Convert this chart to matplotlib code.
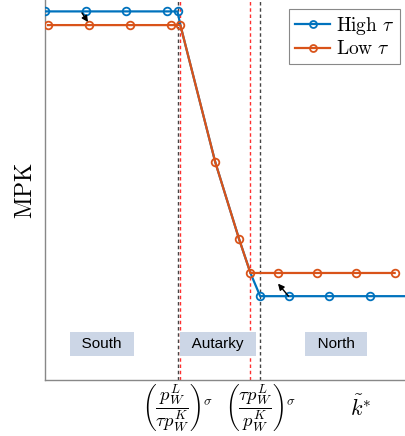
import matplotlib
matplotlib.use("Agg")
import matplotlib.pyplot as plt
from matplotlib.transforms import blended_transform_factory

plt.rcParams['mathtext.fontset'] = 'cm'

# Capital stock grid (k) and MPK values
south_high_x = [0, 1, 2, 3, 3.26]
south_high_y = [9.70, 9.70, 9.70, 9.70, 9.70]
south_low_x = [0.06, 1.07, 2.09, 3.10]
south_low_y = [9.34, 9.34, 9.34, 9.34]
autarky_x = [3.33, 4.19, 4.78, 5.06]
autarky_y = [9.34, 5.74, 3.71, 2.82]
north_high_x = [5.30, 6, 7, 8, 9]
north_high_y = [2.21, 2.21, 2.21, 2.21, 2.21]
north_low_x = [5.73, 6.70, 7.66, 8.62]
north_low_y = [2.82, 2.82, 2.82, 2.82]

# Thresholds (tick positions) and regime labels
threshold_black = [3.26, 5.30]
threshold_red = [3.33, 5.06]
tick_labels = [r'$\left(\dfrac{p_W^L}{\tau p_W^K}\right)^{\sigma}$',
               r'$\left(\dfrac{\tau p_W^L}{p_W^K}\right)^{\sigma}$']
kstar_x = 7.77
regions = ['South', 'Autarky', 'North']
region_x = [1.395, 4.26, 7.17]
region_y = 0.95

high_x = south_high_x + autarky_x + north_high_x
high_y = south_high_y + autarky_y + north_high_y
low_x = south_low_x + autarky_x + north_low_x
low_y = south_low_y + autarky_y + north_low_y

blue = '#0072BD'
orange = '#D95319'

fig = plt.figure(figsize=(4.06, 4.36), dpi=100)
ax = fig.add_axes([0.112, 0.128, 0.888, 0.872])

for xv in threshold_black:
    ax.axvline(xv, color='#444444', lw=1.0, ls=(0, (2.5, 2)), zorder=1)
for xv in threshold_red:
    ax.axvline(xv, color='#ff3030', lw=1.0, ls=(0, (2.5, 2)), zorder=1)

hidden = set(range(len(south_high_x), len(south_high_x) + len(autarky_x)))
blue_marks = [i for i in range(len(high_x)) if i not in hidden]
ax.plot(high_x, high_y, color=blue, lw=1.6, marker='o', ms=5.5,
        mfc='none', mew=1.3, markevery=blue_marks, label=r'$\mathrm{High}\ \tau$', zorder=3)
ax.plot(low_x, low_y, color=orange, lw=1.6, marker='o', ms=5.5,
        mfc='none', mew=1.3, label=r'$\mathrm{Low}\ \tau$', zorder=4)

# Shift arrows between regimes
arrow = dict(arrowstyle='-|>', color='black', lw=1.0, mutation_scale=9,
             shrinkA=0, shrinkB=0)
ax.annotate('', xy=(1.05, 9.42), xytext=(0.90, 9.66), arrowprops=arrow, zorder=5)
ax.annotate('', xy=(5.74, 2.54), xytext=(6.0, 2.21), arrowprops=arrow, zorder=5)

for name, xv in zip(regions, region_x):
    ax.text(xv, region_y, '\u2002' + name + '\u2002', ha='center', va='center',
            fontsize=11, family='Liberation Sans',
            bbox=dict(boxstyle='square,pad=0.3', fc='#ccd6e6', ec='none'), zorder=2)

ax.set_xlim(0, 8.9)
ax.set_ylim(0, 10)
ax.set_xticks(threshold_black)
ax.set_xticklabels(tick_labels, fontsize=13.5)
ax.tick_params(axis='x', length=0, pad=2)
ax.set_yticks([])

trans = blended_transform_factory(ax.transData, ax.transAxes)
ax.text(kstar_x, -0.072, r'$\tilde{k}^{*}$', transform=trans, ha='center',
        va='center', fontsize=16)

ax.set_ylabel(r'$\mathrm{MPK}$', fontsize=17, labelpad=6)

for side in ['top', 'right']:
    ax.spines[side].set_visible(False)
for side in ['left', 'bottom']:
    ax.spines[side].set_color('#888888')
    ax.spines[side].set_linewidth(1.0)

leg = ax.legend(loc='upper right', bbox_to_anchor=(0.983, 0.977), fontsize=14,
                fancybox=False, framealpha=1, edgecolor='#888888',
                handlelength=1.8, handletextpad=0.3, borderpad=0.3,
                labelspacing=0.15, borderaxespad=0)
leg.get_frame().set_linewidth(0.8)
for h in leg.legend_handles:
    h.set_markersize(5)

fig.savefig('out.png', dpi=100)
